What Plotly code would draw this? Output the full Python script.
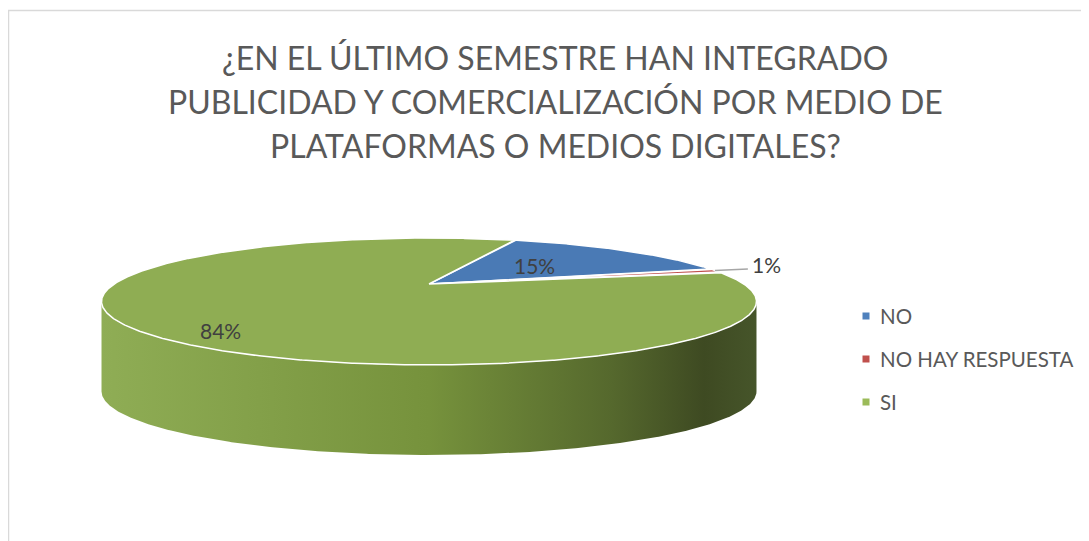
import numpy as np
import plotly.graph_objects as go

# ---------------- data ----------------
title_lines = [
    "¿EN EL ÚLTIMO SEMESTRE HAN INTEGRADO",
    "PUBLICIDAD Y COMERCIALIZACIÓN POR MEDIO DE",
    "PLATAFORMAS O MEDIOS DIGITALES?",
]
categories = ["NO", "NO HAY RESPUESTA", "SI"]
values = [15, 1, 84]
pct_labels = ["15%", "1%", "84%"]

# ---------------- style ----------------
top_colors = ["#4a7ab5", "#c0504d", "#8fad53"]
legend_colors = ["#4f81bd", "#c0504d", "#9bbb59"]
side_scale = [[0.0, "#8fad55"], [0.5, "#76923c"], [0.78, "#55682d"],
              [0.92, "#3e4a22"], [1.0, "#46552a"]]
FONT = "Lato"
TITLE_FONT = "Lato"
W, H = 1089, 541
OFF = 8  # page body margin

# simple perspective projection of a flat cylinder
CX, CY = 429.0, 284.0
F, D = 1122.3, 3.565
PHI = np.radians(10.74)
S, C = np.sin(PHI), np.cos(PHI)
DEPTH = 90.0
START = 20.0  # angle of first slice (deg, clockwise from 12 o'clock)


def proj(theta_deg, rho=1.0):
    t = np.radians(theta_deg)
    X = rho * np.sin(t)
    Y = rho * np.cos(t)
    den = D + C * Y
    return CX + F * X / den, CY - F * S * Y / den


total = float(sum(values))
spans = [360.0 * v / total for v in values]
starts = START + np.concatenate([[0], np.cumsum(spans)[:-1]])
ends = starts + np.array(spans)

fig = go.Figure()

# visible side wall (front half between horizontal extremes)
th = np.linspace(0, 360, 3601)
xs, _ = proj(th)
th_r = th[np.argmax(xs)]
th_l = th[np.argmin(xs)]
x_left, x_right = xs.min(), xs.max()
for i in range(len(values)):
    segs = []
    for shift in (0, 360):
        a0 = max(starts[i] - shift, th_r)
        a1 = min(ends[i] - shift, th_l)
        if a1 > a0:
            segs.append((a0, a1))
    for (b0, b1) in segs:
        tt = np.linspace(b0, b1, 400)
        tx, ty = proj(tt)
        px = np.concatenate([tx, tx[::-1], tx[:1]])
        py = np.concatenate([ty, ty[::-1] + DEPTH, ty[:1]])
        fig.add_trace(go.Scatter(
            x=px, y=py, mode="lines", fill="toself",
            line=dict(width=0, color="rgba(0,0,0,0)"),
            fillgradient=dict(type="horizontal", colorscale=side_scale,
                              start=x_left, stop=x_right),
            hoverinfo="skip", showlegend=False))

# top face slices
for i in range(len(values)):
    tt = np.linspace(starts[i], ends[i], max(int(spans[i] * 4), 20))
    tx, ty = proj(tt)
    px = np.concatenate([[CX], tx, [CX]])
    py = np.concatenate([[CY], ty, [CY]])
    fig.add_trace(go.Scatter(
        x=px, y=py, mode="lines", fill="toself", fillcolor=top_colors[i],
        line=dict(width=1.5, color="white"), hoverinfo="skip",
        showlegend=False))

annotations = []
# data labels
mids = (starts + ends) / 2
label_rho = [0.5, 1.0, 0.85]
label_dtheta = [0.0, 0.0, -9.0]
for i in range(len(values)):
    lx, ly = proj(mids[i] + label_dtheta[i], label_rho[i])
    if i == 1:
        ex, ey = lx + 33, ly - 1.5
        fig.add_trace(go.Scatter(x=[lx, ex], y=[ly, ey], mode="lines",
                                 line=dict(color="#a6a6a6", width=1.5),
                                 hoverinfo="skip", showlegend=False))
        annotations.append(dict(x=ex + 2, y=ey - 4.5, text=pct_labels[i],
                                xanchor="left", yanchor="middle",
                                showarrow=False,
                                font=dict(family=FONT, size=21, color="#404040")))
    else:
        annotations.append(dict(x=lx, y=ly, text=pct_labels[i],
                                xanchor="center", yanchor="middle",
                                showarrow=False,
                                font=dict(family=FONT, size=21, color="#404040")))

# title
for k, line in enumerate(title_lines):
    annotations.append(dict(x=555, y=57 + 44 * k, text=line, showarrow=False,
                            xanchor="center", yanchor="middle",
                            font=dict(family=TITLE_FONT, size=32,
                                      color="#595959")))

# legend
LX, LY, LSTEP = 866, 316, 43
leg_y = [LY + LSTEP * i for i in range(len(categories))]
fig.add_trace(go.Scatter(x=[LX] * len(categories), y=leg_y, mode="markers",
                         marker=dict(symbol="square", size=7,
                                     color=legend_colors),
                         hoverinfo="skip", showlegend=False))
for i, cat in enumerate(categories):
    annotations.append(dict(x=LX + 12, y=leg_y[i], text=cat, showarrow=False,
                            xanchor="left", yanchor="middle",
                            font=dict(family=FONT, size=20.5, color="#595959")))

fig.update_layout(
    width=W, height=H, margin=dict(l=0, r=0, t=0, b=0),
    paper_bgcolor="white", plot_bgcolor="white",
    xaxis=dict(range=[OFF, W + OFF], visible=False, fixedrange=True),
    yaxis=dict(range=[H + OFF, OFF], visible=False, fixedrange=True),
    annotations=annotations,
    shapes=[dict(type="rect", xref="x", yref="y", x0=8.5, y0=10.5,
                 x1=W + 40, y1=H + 40,
                 line=dict(color="#d9d9d9", width=1.5))],
    showlegend=False,
)
fig.write_html("out.html")
